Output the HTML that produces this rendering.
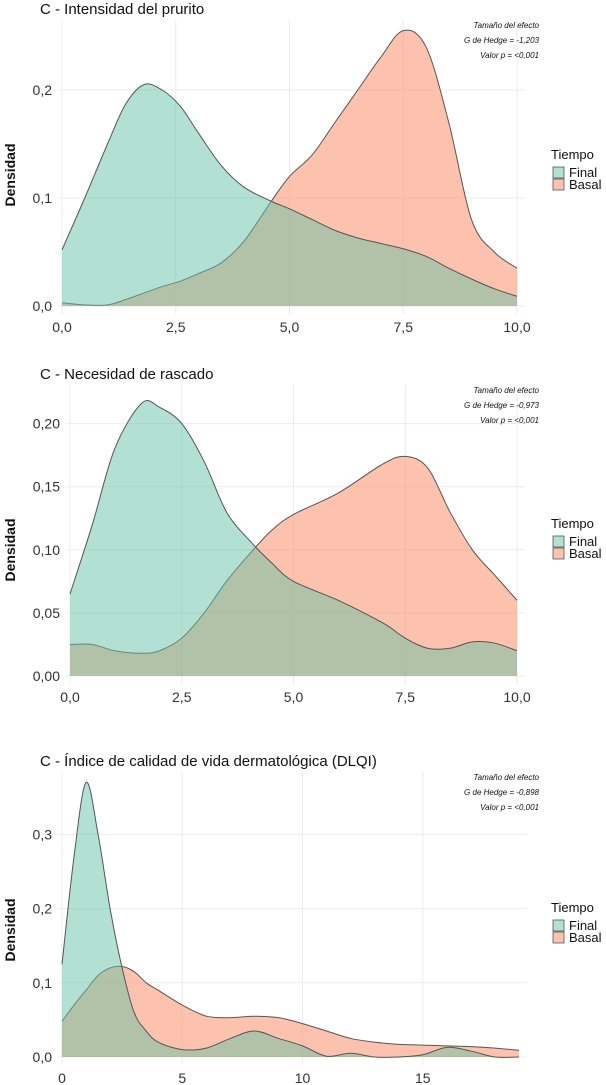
<!DOCTYPE html>
<html><head><meta charset="utf-8"><style>
body{margin:0;background:#fff;width:606px;height:1085px;overflow:hidden;font-family:"Liberation Sans",sans-serif}
svg{display:block}
</style></head><body>
<svg id="s" width="606" height="1085"></svg>
<script>
// Panel 1 data
const p1X=[0,0.5,1,1.4,1.8,2.2,2.6,3,3.5,4,4.6,5,5.5,6,6.5,7,7.5,8,8.5,9,9.5,10];
const p1Final=[0.052,0.1,0.15,0.187,0.205,0.2,0.185,0.16,0.13,0.11,0.097,0.09,0.08,0.07,0.063,0.058,0.053,0.046,0.035,0.025,0.016,0.009];
const p1Basal=[0.003,0.001,0.001,0.006,0.012,0.018,0.023,0.03,0.04,0.06,0.097,0.12,0.14,0.17,0.2,0.23,0.255,0.24,0.17,0.08,0.05,0.035];
const p1Ticks=["0,0","2,5","5,0","7,5","10,0"];const p1TickV=[0,2.5,5,7.5,10];
const p1YT=["0,0","0,1","0,2"];const p1YV=[0,0.1,0.2];
// Panel 2 data
const p2X=[0,0.5,1,1.6,2,2.5,3,3.5,4,4.5,5,6,7,7.5,8,8.5,9,9.5,10];
const p2Final=[0.065,0.12,0.18,0.216,0.213,0.2,0.17,0.13,0.108,0.09,0.075,0.06,0.042,0.03,0.022,0.022,0.027,0.026,0.02];
const p2Basal=[0.025,0.025,0.02,0.018,0.02,0.03,0.05,0.075,0.096,0.115,0.128,0.145,0.168,0.174,0.165,0.13,0.1,0.08,0.06];
const p2Ticks=["0,0","2,5","5,0","7,5","10,0"];const p2TickV=[0,2.5,5,7.5,10];
const p2YT=["0,00","0,05","0,10","0,15","0,20"];const p2YV=[0,0.05,0.1,0.15,0.2];
// Panel 3 data
const p3X=[0,0.5,1,1.5,2,2.5,3,3.5,4,5,6,7,8,9,10,11,12,13,14,15,16,17,18,19];
const p3Final=[0.125,0.27,0.37,0.3,0.2,0.12,0.06,0.035,0.02,0.01,0.012,0.025,0.035,0.025,0.015,0.001,0.005,0,0,0.003,0.013,0.008,0,0];
const p3Basal=[0.048,0.07,0.09,0.11,0.12,0.122,0.115,0.1,0.09,0.07,0.055,0.053,0.055,0.053,0.045,0.035,0.025,0.02,0.017,0.016,0.015,0.014,0.012,0.009];
const p3Ticks=["0","5","10","15"];const p3TickV=[0,5,10,15];
const p3YT=["0,0","0,1","0,2","0,3"];const p3YV=[0,0.1,0.2,0.3];

const NS="http://www.w3.org/2000/svg",S=document.getElementById('s');
function mk(t,a,p){const e=document.createElementNS(NS,t);for(const k in a)e.setAttribute(k,a[k]);(p||S).appendChild(e);return e;}
function path(pts){let d=`M${pts[0][0]},${pts[0][1]}`;for(let i=0;i<pts.length-1;i++){const p0=pts[Math.max(0,i-1)],p1=pts[i],p2=pts[i+1],p3=pts[Math.min(pts.length-1,i+2)];
d+=` C${p1[0]+(p2[0]-p0[0])/6},${p1[1]+(p2[1]-p0[1])/6} ${p2[0]-(p3[0]-p1[0])/6},${p2[1]-(p3[1]-p1[1])/6} ${p2[0]},${p2[1]}`;}return d;}
function panel(o){
 const g=mk('g',{});
 const sx=v=>o.x0+(v-o.xmin)/(o.xmax-o.xmin)*(o.x1-o.x0), sy=v=>o.y0-v*o.ys;
 for(let i=0;i<o.tv.length;i++){const l=mk('line',{x1:sx(o.tv[i]),x2:sx(o.tv[i]),y1:o.top,y2:o.y0+8,stroke:'#ebebeb','stroke-width':1},g);}
 for(let i=0;i<o.yv.length;i++){const l=mk('line',{x1:o.x0-4,x2:o.x1+8,y1:sy(o.yv[i]),y2:sy(o.yv[i]),stroke:'#ebebeb'},g);
  const t=mk('text',{x:o.x0-10,y:sy(o.yv[i])+5,'text-anchor':'end','font-size':14,fill:'#333'},g);t.textContent=o.yt[i];}
 for(let i=0;i<o.tv.length;i++){const t=mk('text',{x:sx(o.tv[i]),y:o.y0+26,'text-anchor':'middle','font-size':14,fill:'#333'},g);t.textContent=o.tk[i];}
 const series=[[o.basal,'rgba(251,154,118,0.6)','basal-density'],[o.fin,'rgba(102,194,165,0.5)','final-density']];
 for(const [ys,c,n] of series){const pts=o.xs.map((x,i)=>[sx(x),sy(ys[i])]);
  const d=path(pts)+` L${sx(o.xs[o.xs.length-1])},${o.y0} L${sx(o.xs[0])},${o.y0} Z`;
  const a=mk('path',{d,fill:c,stroke:'none'},g);
  const l=mk('path',{d:path(pts),fill:'none',stroke:'#555','stroke-width':1},g);}
 const t=mk('text',{x:40,y:o.ty,'font-size':15,fill:'#111'},g);t.textContent=o.title;
 o.ann.forEach((s,i)=>{const a=mk('text',{x:539,y:o.top+8+i*15,'text-anchor':'end','font-size':8,'font-style':'italic',fill:'#111'},g);a.textContent=s;});
 const yt=mk('text',{transform:`translate(15,${o.ly}) rotate(-90)`,'text-anchor':'middle','font-size':14,'font-weight':'bold',fill:'#111'},g);yt.textContent='Densidad';
 const lt=mk('text',{x:551,y:o.lg,'font-size':13,fill:'#111'},g);lt.textContent='Tiempo';
 [['Final','rgba(102,194,165,0.5)'],['Basal','rgba(251,154,118,0.6)']].forEach((e,i)=>{
  const r=mk('rect',{x:553,y:o.lg+8+i*12,width:11,height:11,fill:e[1],stroke:'#555','stroke-width':0.8},g);
  const tx=mk('text',{x:569,y:o.lg+18+i*12,'font-size':13,fill:'#111'},g);tx.textContent=e[0];});
}
panel({name:'panel-prurito',xs:p1X,fin:p1Final,basal:p1Basal,tk:p1Ticks,tv:p1TickV,yt:p1YT,yv:p1YV,x0:62,x1:517,xmin:0,xmax:10,y0:306,ys:1080,top:20,ty:14,title:'C - Intensidad del prurito',ann:['Tamaño del efecto','G de Hedge = -1,203','Valor p = <0,001'],ly:175,lg:159});
panel({name:'panel-rascado',xs:p2X,fin:p2Final,basal:p2Basal,tk:p2Ticks,tv:p2TickV,yt:p2YT,yv:p2YV,x0:70,x1:517,xmin:0,xmax:10,y0:676,ys:1262,top:385,ty:379,title:'C - Necesidad de rascado',ann:['Tamaño del efecto','G de Hedge = -0,973','Valor p = <0,001'],ly:550,lg:528});
panel({name:'panel-dlqi',xs:p3X,fin:p3Final,basal:p3Basal,tk:p3Ticks,tv:p3TickV,yt:p3YT,yv:p3YV,x0:62,x1:519,xmin:0,xmax:19,y0:1057,ys:742,top:772,ty:766,title:'C - Índice de calidad de vida dermatológica (DLQI)',ann:['Tamaño del efecto','G de Hedge = -0,898','Valor p = <0,001'],ly:930,lg:912});
</script>
</body></html>
